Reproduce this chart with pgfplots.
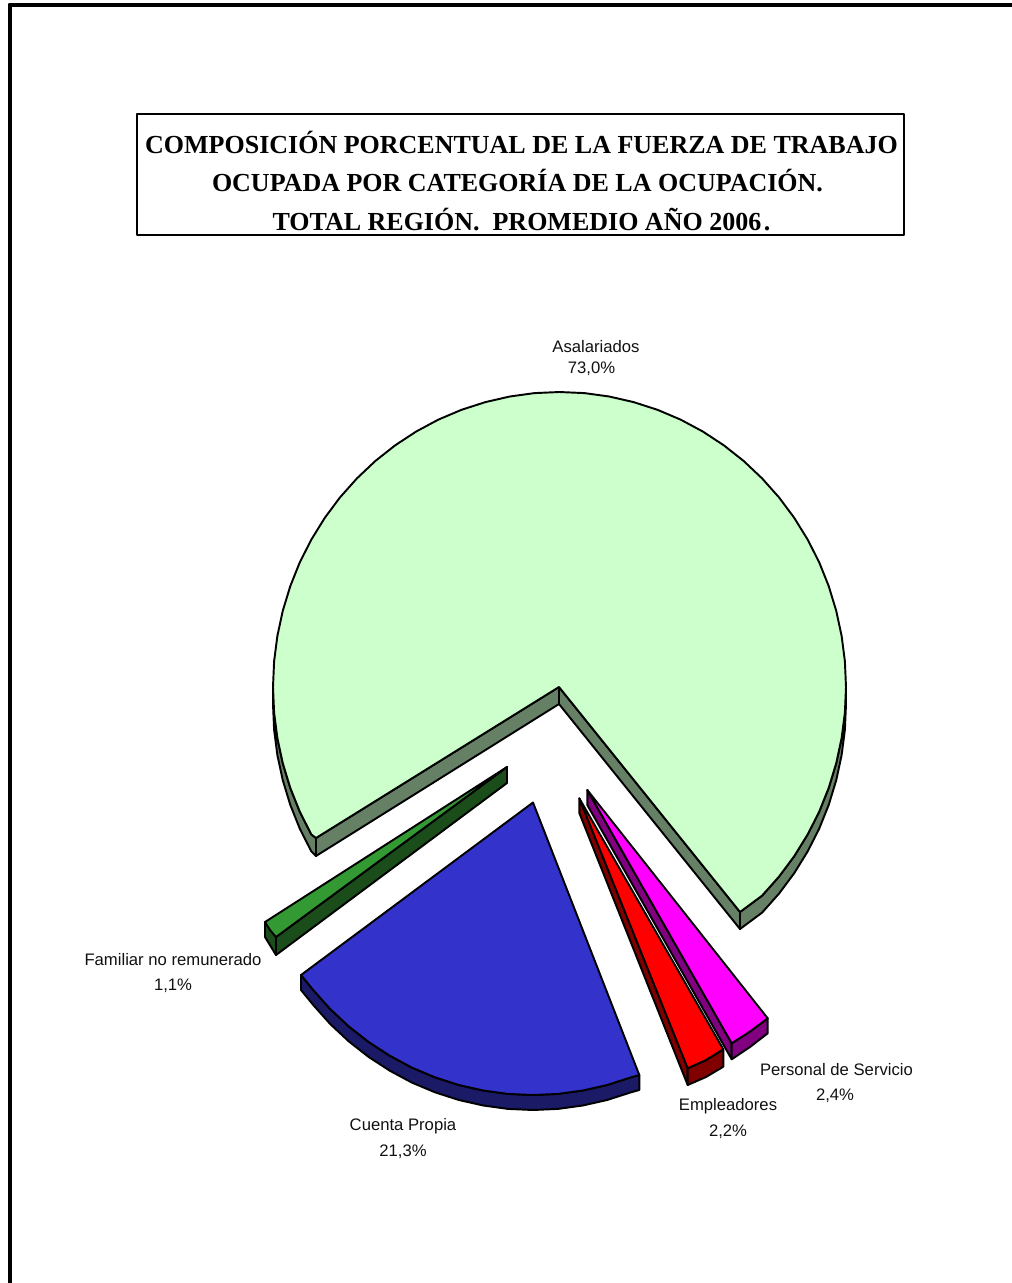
\documentclass[border=0pt]{standalone}
\usepackage{pgfplots}
\pgfplotsset{compat=1.18}
\usepackage{fontspec}
\setmainfont{Liberation Sans}
\newfontfamily\titlefont{Liberation Serif}
\definecolor{asaTop}{HTML}{CCFFCC}
\definecolor{asaWall}{HTML}{668066}
\definecolor{famTop}{HTML}{339933}
\definecolor{famWall}{HTML}{1A4D1A}
\definecolor{cueTop}{HTML}{3333CC}
\definecolor{cueWall}{HTML}{1A1A66}
\definecolor{empTop}{HTML}{FF0000}
\definecolor{empWall}{HTML}{800000}
\definecolor{perTop}{HTML}{FF00FF}
\definecolor{perWall}{HTML}{800080}
\definecolor{txt}{HTML}{111111}
\tikzset{
  lab/.style={font=\fontsize{12.5pt}{15pt}\selectfont, text=txt, inner sep=0pt, anchor=center},
  face/.style={draw=black, line width=1.45pt},
}
\begin{document}
\begin{tikzpicture}
\path[use as bounding box] (0,0) rectangle (759pt,962.25pt);
\begin{axis}[
  scale only axis, width=759pt, height=962.25pt,
  xmin=0, xmax=1012, ymin=0, ymax=1283, y dir=reverse,
  axis lines=none, anchor=south west, at={(0,0)},
  every axis plot/.append style={line join=round},
]
% outer frame
\addplot[black, line width=3pt] coordinates {(9.5,1283) (9.5,4.5) (1012,4.5)};
% title box
\addplot[black, line width=1.2pt] coordinates {(137,114) (904,114) (904,235) (137,235)} --cycle;
% Asalariados: walls
\addplot[face, fill=asaWall] coordinates {(846,687) (844.9,712.7) (841.6,738.2) (836.2,763.3) (828.7,787.9) (819.2,811.7) (807.6,834.5) (794.2,856.2) (779,876.6) (762.1,895.6) (740,912) (740,929) (762.1,912.6) (779,893.6) (794.2,873.2) (807.6,851.5) (819.2,828.7) (828.7,804.9) (836.2,780.3) (841.6,755.2) (844.9,729.7) (846,704)} --cycle;
\addplot[face, fill=asaWall] coordinates {(273,687) (274.1,712.7) (277.4,738.2) (282.8,763.3) (290.3,787.9) (299.8,811.7) (311.4,834.5) (316,838) (316,856) (311.4,851.5) (299.8,828.7) (290.3,804.9) (282.8,780.3) (277.4,755.2) (274.1,729.7) (273,704)} --cycle;
\addplot[face, fill=asaWall] coordinates {(559,687) (559,704) (316,856) (316,838)} --cycle;
\addplot[face, fill=asaWall] coordinates {(559,687) (559,704) (740,929) (740,912)} --cycle;
% Asalariados: top
\addplot[face, fill=asaTop] coordinates {(559,687) (740,912) (762.1,895.6) (779,876.6) (794.2,856.2) (807.6,834.5) (819.2,811.7) (828.7,787.9) (836.2,763.3) (841.6,738.2) (844.9,712.7) (846,687) (844.9,661.3) (841.6,635.8) (836.2,610.7) (828.7,586.1) (819.2,562.3) (807.6,539.5) (794.2,517.8) (779,497.4) (762.1,478.4) (743.7,461) (723.8,445.3) (702.8,431.5) (680.6,419.6) (657.5,409.8) (633.6,402.1) (609.2,396.5) (584.5,393.1) (559.5,392) (534.5,393.1) (509.8,396.5) (485.4,402.1) (461.5,409.8) (438.4,419.6) (416.2,431.5) (395.2,445.3) (375.3,461) (356.9,478.4) (340,497.4) (324.8,517.8) (311.4,539.5) (299.8,562.3) (290.3,586.1) (282.8,610.7) (277.4,635.8) (274.1,661.3) (273,687) (274.1,712.7) (277.4,738.2) (282.8,763.3) (290.3,787.9) (299.8,811.7) (311.4,834.5) (316,838)} --cycle;
% Familiar no remunerado
\addplot[face, fill=famWall] coordinates {(265,922) (265,937) (276,955) (276,937)} --cycle;
\addplot[face, fill=famWall] coordinates {(507,767) (507,783) (276,955) (276,937)} --cycle;
\addplot[face, fill=famTop] coordinates {(507,767) (265,922) (270,930) (276,937)} --cycle;
% Cuenta Propia
\addplot[face, fill=cueWall] coordinates {(301,975) (313.5,990.3) (330.4,1009.2) (348.8,1026.4) (368.7,1042) (389.8,1055.7) (411.9,1067.6) (435,1077.3) (458.9,1085) (483.3,1090.5) (508,1093.9) (533,1095) (558,1093.9) (582.7,1090.5) (607.1,1085) (631,1077.3) (639.3,1075) (639.3,1090) (631,1092.3) (607.1,1100) (582.7,1105.5) (558,1108.9) (533,1110) (508,1108.9) (483.3,1105.5) (458.9,1100) (435,1092.3) (411.9,1082.6) (389.8,1070.7) (368.7,1057) (348.8,1041.4) (330.4,1024.2) (313.5,1005.3) (301,990)} --cycle;
\addplot[face, fill=cueTop] coordinates {(533,802.5) (301,975) (313.5,990.3) (330.4,1009.2) (348.8,1026.4) (368.7,1042) (389.8,1055.7) (411.9,1067.6) (435,1077.3) (458.9,1085) (483.3,1090.5) (508,1093.9) (533,1095) (558,1093.9) (582.7,1090.5) (607.1,1085) (631,1077.3) (639.3,1075)} --cycle;
% Empleadores
\addplot[face, fill=empWall] coordinates {(579.3,798.3) (579.3,813) (687.7,1085) (687.7,1068.3)} --cycle;
\addplot[face, fill=empWall] coordinates {(687.7,1068.3) (706,1060) (723.3,1049.3) (723.3,1066.7) (706,1077) (687.7,1085)} --cycle;
\addplot[face, fill=empTop] coordinates {(579.3,798.3) (723.3,1049.3) (706,1060) (687.7,1068.3)} --cycle;
% Personal de Servicio
\addplot[face, fill=perWall] coordinates {(587.3,790) (587.3,805) (731.7,1059.3) (731.7,1043.3)} --cycle;
\addplot[face, fill=perWall] coordinates {(731.7,1043.3) (750,1031.5) (767.7,1018.3) (767.7,1033.3) (750,1047) (731.7,1059.3)} --cycle;
\addplot[face, fill=perTop] coordinates {(587.3,790) (767.7,1018.3) (750,1031.5) (731.7,1043.3)} --cycle;
% title
\node[anchor=center, inner sep=0pt, font=\titlefont\bfseries\fontsize{19.5pt}{29pt}\selectfont, align=center, text=black] at (axis cs:521.5,181) {COMPOSICIÓN PORCENTUAL DE LA FUERZA DE TRABAJO\\OCUPADA POR CATEGORÍA DE LA OCUPACIÓN.\kern6pt\\TOTAL REGIÓN.\ \ PROMEDIO AÑO 2006\kern2pt.};
% labels
\node[lab] at (axis cs:596,346.5) {Asalariados};
\node[lab] at (axis cs:591.5,369) {73,0\%};
\node[lab] at (axis cs:173,960) {Familiar no remunerado};
\node[lab] at (axis cs:173,986) {1,1\%};
\node[lab] at (axis cs:403,1126.5) {Cuenta Propia};
\node[lab] at (axis cs:403,1152) {21,3\%};
\node[lab] at (axis cs:836.5,1070) {Personal de Servicio};
\node[lab] at (axis cs:835,1096) {2,4\%};
\node[lab] at (axis cs:728,1106.5) {Empleadores};
\node[lab] at (axis cs:728,1132) {2,2\%};
\end{axis}
\end{tikzpicture}
\end{document}
